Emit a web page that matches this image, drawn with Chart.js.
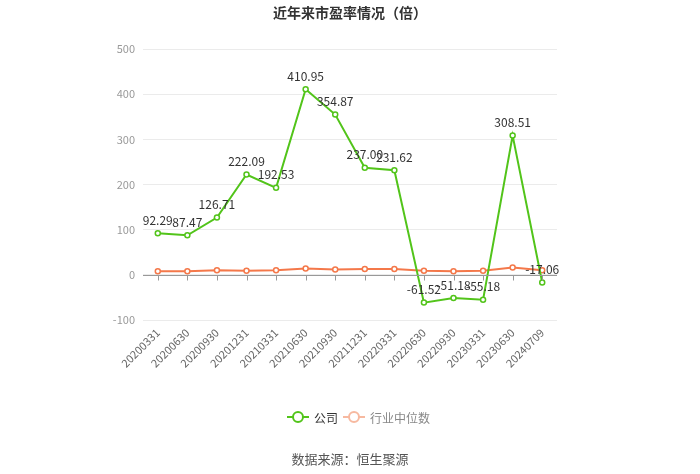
<!DOCTYPE html>
<html><head><meta charset="utf-8">
<script src="https://cdn.jsdelivr.net/npm/chart.js@4/dist/chart.umd.min.js"></script>
<style>html,body{margin:0;padding:0;background:#fff}#wrap{width:700px;height:474px;position:relative}</style>
</head><body><div id="wrap"><canvas id="c" width="700" height="474"></canvas></div>
<script>
const categories = ['20200331','20200630','20200930','20201231','20210331','20210630','20210930','20211231','20220331','20220630','20220930','20230331','20230630','20240709'];
const companyPE = [92.29, 87.47, 126.71, 222.09, 192.53, 410.95, 354.87, 237.00, 231.62, -61.52, -51.18, -55.18, 308.51, -17.06];
const industryPE = [8, 8, 10, 9, 10, 14, 12, 13, 13, 9, 8, 9, 16, 10];
const yTicks = [-100, 0, 100, 200, 300, 400, 500];
const seriesNames = ['公司', '行业中位数'];
const titleText = '近年来市盈率情况（倍）';
const sourceText = '数据来源：恒生聚源';

const FONT = '"Microsoft YaHei","Noto Sans CJK SC","Noto Sans",sans-serif';
const GREEN = '#52c41a';
const ORANGE = '#f4784a';

const extras = {
  id: 'extras',
  afterDatasetsDraw(chart) {
    const ctx = chart.ctx;
    const x = chart.scales.x, y = chart.scales.y;
    ctx.save();
    const y0 = y.getPixelForValue(0);
    ctx.strokeStyle = '#999';
    ctx.lineWidth = 1;
    ctx.beginPath();
    ctx.moveTo(chart.chartArea.left, Math.round(y0) + 0.5);
    ctx.lineTo(chart.chartArea.right, Math.round(y0) + 0.5);
    categories.forEach((c, i) => {
      const px = Math.round(x.getPixelForValue(i)) + 0.5;
      ctx.moveTo(px, Math.round(y0) + 0.5);
      ctx.lineTo(px, Math.round(y0) + 5.5);
    });
    ctx.stroke();
    const meta = chart.getDatasetMeta(0);
    ctx.font = '12px ' + FONT;
    ctx.fillStyle = '#333';
    ctx.textAlign = 'center';
    ctx.textBaseline = 'bottom';
    meta.data.forEach((pt, i) => {
      ctx.fillText(companyPE[i].toFixed(2), pt.x, pt.y - 7);
    });
    ctx.restore();
  },
  afterDraw(chart) {
    const ctx = chart.ctx;
    ctx.save();
    ctx.font = 'bold 14px ' + FONT;
    ctx.fillStyle = '#333';
    ctx.textAlign = 'center';
    ctx.textBaseline = 'middle';
    ctx.fillText(titleText, 350, 13);
    const ly = 417;
    const items = [
      {x: 287, color: GREEN, text: seriesNames[0], tc: '#333'},
      {x: 343, color: '#f7b9a0', text: seriesNames[1], tc: '#888'}
    ];
    ctx.font = '12px ' + FONT;
    ctx.textAlign = 'left';
    items.forEach(it => {
      ctx.strokeStyle = it.color;
      ctx.lineWidth = 2;
      ctx.beginPath();
      ctx.moveTo(it.x, ly); ctx.lineTo(it.x + 22, ly);
      ctx.stroke();
      ctx.beginPath();
      ctx.arc(it.x + 11, ly, 5, 0, Math.PI * 2);
      ctx.fillStyle = '#fff';
      ctx.fill();
      ctx.stroke();
      ctx.fillStyle = it.tc;
      ctx.fillText(it.text, it.x + 27, ly + 1);
    });
    ctx.font = '13px ' + FONT;
    ctx.fillStyle = '#555';
    ctx.textAlign = 'center';
    ctx.fillText(sourceText, 350, 459);
    ctx.restore();
  }
};

new Chart(document.getElementById('c'), {
  type: 'line',
  data: {
    labels: categories,
    datasets: [
      {label: seriesNames[0], data: companyPE, borderColor: GREEN, backgroundColor: '#fff',
       borderWidth: 2, pointRadius: 2.5, pointBorderWidth: 1.5, pointBackgroundColor: '#fff', tension: 0},
      {label: seriesNames[1], data: industryPE, borderColor: ORANGE, backgroundColor: '#fff',
       borderWidth: 2, pointRadius: 2.5, pointBorderWidth: 1.5, pointBackgroundColor: '#fff', tension: 0}
    ]
  },
  options: {
    responsive: false,
    animation: false,
    devicePixelRatio: 1,
    layout: {padding: {left: 100, right: 143, top: 49, bottom: 94}},
    plugins: {legend: {display: false}, title: {display: false}, tooltip: {enabled: false}},
    scales: {
      x: {
        type: 'category',
        offset: true,
        grid: {display: false, drawTicks: false},
        border: {display: false},
        ticks: {color: '#666', font: {size: 11, family: FONT}, minRotation: 45, maxRotation: 45, padding: 6, autoSkip: false},
        afterFit(s) { s.height = 60; }
      },
      y: {
        min: -100, max: 500,
        afterBuildTicks(s) { s.ticks = yTicks.map(v => ({value: v})); },
        grid: {color: '#ebebeb', drawTicks: false},
        border: {display: false},
        ticks: {color: '#999', font: {size: 11, family: FONT}, padding: 8},
        afterFit(s) { s.width = 43; }
      }
    }
  },
  plugins: [extras]
});
</script>
</body></html>
